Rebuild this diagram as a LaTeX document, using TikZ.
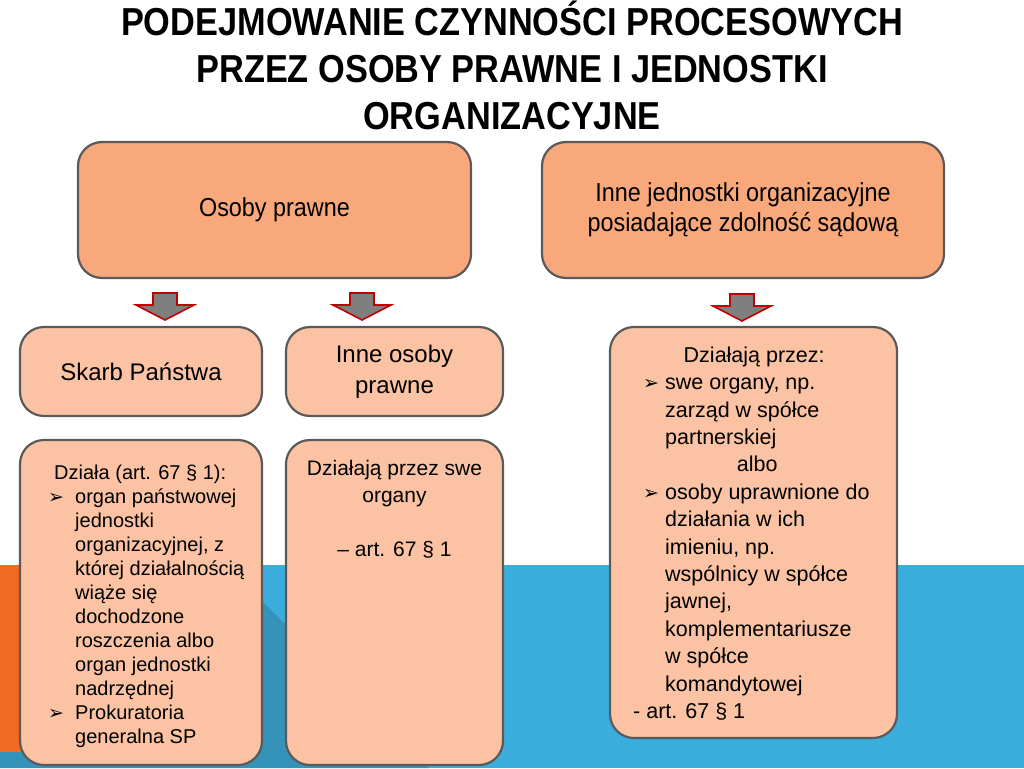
\documentclass[tikz,border=0pt]{standalone}
\usepackage{fontspec}
\setmainfont{Liberation Sans}
\newfontfamily\titlefont[FakeStretch=0.88]{Liberation Sans Bold}
\newfontfamily\condfont[FakeStretch=0.9]{Liberation Sans}
\newfontfamily\symfont{DejaVu Sans}
\definecolor{upfill}{HTML}{F8A87B}
\definecolor{lowfill}{HTML}{FBC3A4}
\definecolor{boxgray}{HTML}{5A5A5A}
\definecolor{bandblue}{HTML}{3AADDC}
\definecolor{banddark}{HTML}{3592B8}
\definecolor{stripe}{HTML}{F26A22}
\definecolor{arrowred}{HTML}{C00000}
\definecolor{arrowgray}{HTML}{7F7F7F}
\newcommand{\bul}[1]{\makebox[#1][l]{\symfont\fontsize{19}{19}\selectfont ➢}}
\begin{document}
\begin{tikzpicture}[x=1pt,y=-1pt,
  boxbase/.style={draw=boxgray, line width=2.2pt, rounded corners=24pt, inner sep=0pt, align=center},
  upbox/.style={boxbase, fill=upfill, font=\condfont\fontsize{26}{30}\selectfont},
  lowbox/.style={boxbase, fill=lowfill, font=\fontsize{24}{31}\selectfont},
  blocktext/.style={inner sep=0pt, anchor=north west, align=left},
  arrowshape/.style={draw=arrowred, fill=arrowgray, line width=1.6pt, line join=miter},
  blockarrow/.pic={\path[arrowshape] (-12,0) -- (12,0) -- (12,12) -- (29,12) -- (0,27) -- (-29,12) -- (-12,12) -- cycle;}
]
\useasboundingbox (0,0) rectangle (1024,768);
\fill[white] (0,0) rectangle (1024,768);
% background bands
\fill[bandblue] (22,565) rectangle (1024,768);
\fill[banddark] (22,565) -- (226,565) -- (429,768) -- (0,768) -- (0,752) -- (22,752) -- cycle;
\fill[stripe] (0,565) rectangle (22,752);
% title
\node[inner sep=0pt, align=center, font=\titlefont\fontsize{39}{47}\selectfont, anchor=base] (title) at (512,129)
  {PODEJMOWANIE CZYNNOŚCI PROCESOWYCH\\PRZEZ OSOBY PRAWNE I JEDNOSTKI\\ORGANIZACYJNE};
% upper boxes
\node[upbox, minimum width=393pt, minimum height=136pt] (op) at (274.5,210) {\raisebox{-3pt}{Osoby prawne}};
\node[upbox, minimum width=402pt, minimum height=136pt] (ij) at (743,210)
  {Inne jednostki organizacyjne\\posiadające zdolność sądową};
% middle boxes
\node[lowbox, minimum width=242pt, minimum height=89pt] (sp) at (141,371.5) {Skarb Państwa};
\node[lowbox, minimum width=217pt, minimum height=89pt] (iop) at (394.5,371.5) {Inne osoby\\prawne};
% lower boxes
\node[lowbox, minimum width=242pt, minimum height=325pt] (spd) at (141,602.5) {};
\node[lowbox, minimum width=217pt, minimum height=325pt] (iopd) at (394.5,602.5) {};
\node[lowbox, minimum width=287pt, minimum height=411pt] (ijd) at (753.5,532.5) {};
% arrows
\pic at (165,293) {blockarrow};
\pic at (362,293) {blockarrow};
\pic at (742,294) {blockarrow};
% texts
\node[blocktext, font=\fontsize{20}{24}\selectfont] (t1) at (48,459) {%
  \rule{0pt}{20pt}\makebox[184pt][c]{Działa (art. 67 § 1):}\\
  \bul{27pt}organ państwowej\\
  \hspace*{27pt}jednostki\\
  \hspace*{27pt}organizacyjnej, z\\
  \hspace*{27pt}której działalnością\\
  \hspace*{27pt}wiąże się\\
  \hspace*{27pt}dochodzone\\
  \hspace*{27pt}roszczenia albo\\
  \hspace*{27pt}organ jednostki\\
  \hspace*{27pt}nadrzędnej\\
  \bul{27pt}Prokuratoria\\
  \hspace*{27pt}generalna SP};
\node[inner sep=0pt, anchor=north, align=center, font=\fontsize{21}{27}\selectfont] (t2) at (394.5,455) {%
  \rule{0pt}{20pt}Działają przez swe\\organy\\[27pt]– art. 67 § 1};
\node[blocktext, font=\fontsize{21.5}{27.4}\selectfont] (t3) at (633,342) {%
  \rule{0pt}{20pt}\makebox[242pt][c]{Działają przez:}\\
  \hspace*{10pt}\bul{22pt}swe organy, np.\\
  \hspace*{32pt}zarząd w spółce\\
  \hspace*{32pt}partnerskiej\\
  \makebox[248pt][c]{albo}\\
  \hspace*{10pt}\bul{22pt}osoby uprawnione do\\
  \hspace*{32pt}działania w ich\\
  \hspace*{32pt}imieniu, np.\\
  \hspace*{32pt}wspólnicy w spółce\\
  \hspace*{32pt}jawnej,\\
  \hspace*{32pt}komplementariusze\\
  \hspace*{32pt}w spółce\\
  \hspace*{32pt}komandytowej\\
  - art. 67 § 1};
\end{tikzpicture}
\end{document}
